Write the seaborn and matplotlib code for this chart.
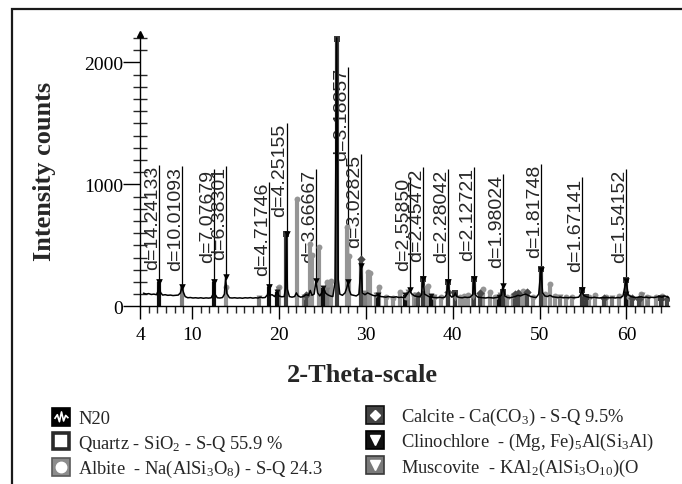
import matplotlib
matplotlib.use("Agg")
import matplotlib.pyplot as plt
import seaborn as sns
from matplotlib.lines import Line2D
from matplotlib.legend_handler import HandlerTuple
from matplotlib.patches import Rectangle
from matplotlib.path import Path
from matplotlib.ticker import FixedLocator

tth_n20 = [4.4, 4.7, 5.0, 5.3, 5.6, 5.9, 6.05, 6.2, 6.35, 6.6, 6.9, 7.2, 7.5, 7.8, 8.1, 8.4, 8.65, 8.84, 9.0, 9.2,
           9.5, 9.8, 10.1, 10.4, 10.7, 11.0, 11.3, 11.6, 11.9, 12.2, 12.38, 12.5, 12.62, 12.9, 13.2, 13.5, 13.72, 13.86, 14.0, 14.3,
           14.6, 14.9, 15.2, 15.5, 15.8, 16.1, 16.4, 16.7, 17.0, 17.3, 17.6, 17.85, 18.1, 18.4, 18.68, 18.8, 18.92, 19.2, 19.5, 19.8,
           20.0, 20.3, 20.6, 20.76, 20.86, 20.97, 21.2, 21.5, 21.8, 22.0, 22.2, 22.5, 22.8, 23.1, 23.4, 23.6, 23.8, 24.05, 24.25, 24.45,
           24.7, 25.0, 25.15, 25.35, 25.6, 25.9, 26.2, 26.45, 26.64, 26.82, 27.0, 27.3, 27.6, 27.8, 27.96, 28.1, 28.3, 28.6, 28.9, 29.2,
           29.45, 29.6, 29.9, 30.2, 30.5, 30.8, 31.1, 31.4, 31.7, 32.0, 32.3, 32.6, 32.9, 33.2, 33.5, 33.8, 34.1, 34.4, 34.7, 35.05,
           35.3, 35.6, 35.9, 36.2, 36.4, 36.58, 36.75, 37.0, 37.3, 37.6, 37.9, 38.2, 38.5, 38.8, 39.1, 39.3, 39.48, 39.62, 39.9, 40.15,
           40.3, 40.45, 40.8, 41.1, 41.4, 41.7, 42.0, 42.3, 42.46, 42.6, 42.9, 43.2, 43.5, 43.8, 44.1, 44.4, 44.7, 45.0, 45.3, 45.6,
           45.78, 46.0, 46.3, 46.6, 46.9, 47.2, 47.5, 47.8, 48.1, 48.4, 48.7, 49.0, 49.3, 49.6, 49.9, 50.15, 50.35, 50.6, 50.9, 51.2,
           51.5, 51.8, 52.1, 52.4, 52.7, 53.0, 53.3, 53.6, 53.9, 54.2, 54.5, 54.7, 54.88, 55.05, 55.35, 55.7, 56.0, 56.3, 56.6, 56.9,
           57.2, 57.5, 57.8, 58.1, 58.4, 58.7, 59.0, 59.3, 59.6, 59.96, 60.2, 60.5, 60.8, 61.1, 61.4, 61.7, 62.0, 62.3, 62.6, 62.9,
           63.2, 63.5, 63.8, 64.1, 64.4, 64.7, 64.9]
cnt_n20 = [108, 100, 104, 97, 100, 95, 120, 200, 115, 92, 95, 90, 92, 88, 90, 92, 110, 160, 115, 80,
           70, 72, 68, 70, 67, 70, 66, 69, 67, 70, 95, 200, 100, 70, 68, 72, 100, 240, 105, 70,
           68, 70, 67, 69, 66, 70, 68, 71, 67, 70, 68, 75, 70, 72, 95, 160, 90, 95, 80, 120,
           85, 78, 80, 150, 590, 140, 80, 75, 80, 110, 85, 75, 80, 95, 90, 130, 90, 100, 210, 110,
           85, 120, 150, 110, 95, 85, 80, 200, 2200, 220, 100, 90, 110, 150, 200, 130, 95, 90, 85, 100,
           330, 110, 95, 110, 100, 90, 85, 95, 80, 78, 75, 80, 76, 74, 78, 72, 75, 70, 95, 130,
           100, 85, 80, 78, 95, 225, 100, 90, 78, 75, 72, 70, 74, 70, 75, 100, 200, 95, 75, 85,
           110, 80, 72, 70, 75, 72, 75, 95, 225, 95, 75, 72, 70, 68, 72, 70, 68, 72, 75, 90,
           170, 85, 72, 70, 75, 80, 90, 85, 95, 100, 90, 80, 75, 72, 100, 300, 110, 85, 80, 90,
           78, 75, 72, 75, 70, 72, 70, 74, 70, 72, 75, 95, 130, 90, 80, 72, 70, 74, 70, 68,
           72, 70, 73, 70, 72, 68, 72, 70, 85, 210, 95, 80, 75, 72, 75, 78, 72, 75, 70, 74,
           72, 76, 80, 75, 85, 78, 70]

# reference sticks of each phase
quartz_tth = [20.86, 26.64, 36.54, 39.47, 40.29, 42.45, 45.79, 50.14, 54.87, 55.33, 59.96, 64.03]
quartz_cnt = [590, 2190, 225, 200, 110, 225, 115, 305, 130, 80, 215, 70]

albite_tth = [13.87, 19.95, 22.04, 23.55, 23.85, 24.55, 25.5, 26.0, 27.8, 28.1, 30.2, 30.5, 31.5, 32.3, 33.1, 33.9,
              34.6, 35.6, 36.7, 37.1, 37.9, 38.6, 40.8, 41.3, 41.8, 43.5, 44.3, 44.9, 46.2, 46.9, 47.6, 48.1,
              48.6, 49.3, 50.6, 51.2, 51.8, 53.0, 53.7, 55.7, 56.4, 57.7, 59.2, 60.3, 61.7, 62.4, 63.4, 64.1]
albite_cnt = [160, 160, 880, 510, 420, 490, 200, 210, 650, 415, 280, 270, 160, 80, 70, 120,
              75, 90, 150, 170, 80, 75, 80, 85, 90, 140, 120, 80, 75, 90, 110, 125,
              120, 80, 100, 180, 85, 80, 75, 75, 90, 75, 85, 75, 100, 75, 80, 85]

calcite_tth = [23.06, 29.41, 35.97, 39.42, 43.16, 47.12, 47.5, 48.5, 57.4, 60.67, 61.4, 64.7]
calcite_cnt = [95, 390, 95, 120, 110, 100, 110, 120, 70, 65, 60, 60]

clino_tth = [6.20, 12.50, 18.80, 19.75, 25.12, 31.40, 34.45, 37.5, 45.3, 59.9]
clino_cnt = [200, 200, 160, 115, 150, 95, 90, 85, 80, 100]

musco_tth = [8.84, 17.75, 19.85, 22.9, 25.5, 29.9, 31.2, 34.9, 35.8, 37.8, 40.3, 42.3, 45.4, 52.3, 55.1, 58.3, 61.8, 62.5]
musco_cnt = [160, 70, 140, 80, 130, 110, 90, 120, 90, 75, 70, 75, 90, 75, 80, 70, 95, 70]

# labelled d-spacings
peak_tth = [6.20, 8.83, 12.50, 13.86, 18.80, 20.87, 24.25, 27.96, 29.47, 35.04, 36.58, 39.48, 42.46, 45.78, 50.15, 54.88, 59.96]
peak_d = ["14.24133", "10.01093", "7.07679", "6.38301", "4.71746", "4.25155", "3.66667", "3.18857", "3.02825",
          "2.55850", "2.45472", "2.28042", "2.12721", "1.98024", "1.81748", "1.67141", "1.54152"]
peak_cnt = [200, 160, 200, 240, 160, 590, 210, 200, 330, 130, 225, 200, 225, 170, 300, 130, 210]
peak_top = [1158, 1152, 1125, 1152, 1021, 1502, 1125, 1959, 1248, 1060, 1139, 1125, 1139, 1084, 1166, 1057, 1125]

legend_labels = ["N20",
                 r"Quartz - SiO$_2$ - S-Q 55.9 %",
                 r"Albite  - Na(AlSi$_3$O$_8$) - S-Q 24.3",
                 r"Calcite - Ca(CO$_3$) - S-Q 9.5%",
                 r"Clinochlore  - (Mg, Fe)$_5$Al(Si$_3$Al)",
                 r"Muscovite  - KAl$_2$(AlSi$_3$O$_{10}$)(O"]

sns.set_style("white")
plt.rcParams["font.family"] = ["Liberation Serif", "DejaVu Serif"]
plt.rcParams["mathtext.fontset"] = "custom"
plt.rcParams["mathtext.rm"] = "Liberation Serif"
plt.rcParams["mathtext.it"] = "Liberation Serif:italic"
plt.rcParams["mathtext.bf"] = "Liberation Serif:bold"

fig = plt.figure(figsize=(6.82, 4.85), dpi=100)
ax = fig.add_axes([140 / 682, 1 - 307.3 / 485, 529 / 682, 272.3 / 485])

phases = [
    (albite_tth, albite_cnt, "#959595", "o"),
    (musco_tth, musco_cnt, "#7f7f7f", "v"),
    (calcite_tth, calcite_cnt, "#4a4a4a", "D"),
    (quartz_tth, quartz_cnt, "#3c3c3c", "s"),
    (clino_tth, clino_cnt, "#101010", "v"),
]
for tth, cnt, col, mk in phases:
    ax.vlines(tth, 0, cnt, colors=col, lw=3, zorder=2)
    sns.scatterplot(x=tth, y=cnt, ax=ax, color=col, marker=mk, s=18, linewidth=0, zorder=3)

sns.lineplot(x=tth_n20, y=cnt_n20, ax=ax, color="black", lw=1.1, sort=False, estimator=None, zorder=4)

# d-spacing markers and labels
ax.vlines(peak_tth, peak_cnt, peak_top, colors="black", lw=0.9, zorder=1)
sns.scatterplot(x=peak_tth, y=peak_cnt, ax=ax, color="black", marker="v", s=22, linewidth=0, zorder=5)
for x, top, d in zip(peak_tth, peak_top, peak_d):
    ax.annotate("d=" + d, (x, top), xytext=(1.5, 0), textcoords="offset points",
                rotation=90, ha="right", va="top", fontsize=14,
                family=["Liberation Sans", "DejaVu Sans"], zorder=1)

ax.set_xlim(4, 64.9)
ax.set_ylim(0, 2232)
sns.despine(ax=ax)
for s in ["left", "bottom"]:
    ax.spines[s].set_color("black")
    ax.spines[s].set_linewidth(1.0)
ax.xaxis.set_major_locator(FixedLocator([4, 10, 20, 30, 40, 50, 60]))
ax.xaxis.set_minor_locator(FixedLocator([v for v in range(5, 65) if v % 10 != 0]))
ax.yaxis.set_major_locator(FixedLocator([0, 1000, 2000]))
ax.yaxis.set_minor_locator(FixedLocator([v for v in range(100, 2300, 100) if v % 1000 != 0]))
ax.tick_params(axis="x", which="major", direction="out", length=9.5, width=1, pad=5, labelsize=14, colors="black")
ax.tick_params(axis="x", which="minor", direction="out", length=5, width=1)
ax.tick_params(axis="y", which="major", direction="out", length=12, width=1, pad=0, labelsize=14, colors="black")
ax.tick_params(axis="y", which="minor", direction="inout", length=10, width=1)
ax.tick_params(bottom=True, left=True, which="both")
ax.plot([0], [1], marker="^", color="black", ms=5, transform=ax.transAxes, clip_on=False)

fig.text(45 / 682, 1 - 171 / 485, "Intensity counts", rotation=90, ha="center", va="center",
         fontsize=19, fontweight="bold")
fig.text(362 / 682, 1 - 376 / 485, "2-Theta-scale", ha="center", va="center",
         fontsize=19, fontweight="bold")

fig.add_artist(Rectangle((12 / 682, -0.05), 1.0, 1.05 - 9.5 / 485, transform=fig.transFigure,
                         fill=False, lw=1.6, edgecolor="#1a1a1a"))

zig = Path([(-1, -0.2), (-0.6, 0.4), (-0.3, -0.6), (0.0, 0.8), (0.3, -0.5), (0.6, 0.3), (1, -0.1)],
           [Path.MOVETO] + [Path.LINETO] * 6)


def box(col, edge="#222222"):
    return Line2D([], [], ls="none", marker="s", ms=12.5, mfc=col, mec=edge, mew=1.2)


def glyph(mk, ms=7):
    return Line2D([], [], ls="none", marker=mk, ms=ms, mfc="white", mec="white")


handles = [
    (box("black", "black"), Line2D([], [], ls="none", marker=zig, ms=10, mfc="none", mec="white", mew=1.2)),
    (Line2D([], [], ls="none", marker="s", ms=12, mfc="white", mec="#2a2a2a", mew=2.6),),
    (box("#8c8c8c", "#5a5a5a"), glyph("o", 7.5)),
    (box("#444444", "#111111"), glyph("D", 5.5)),
    (box("#111111", "#000000"), glyph("v", 7.5)),
    (box("#7a7a7a", "#3a3a3a"), glyph("v", 7.5)),
]
common = dict(loc="upper left", frameon=False, borderpad=0, borderaxespad=0, fontsize=13.3,
              handlelength=1.0, handler_map={tuple: HandlerTuple(ndivide=1, pad=0)})
fig.legend(handles[:3], legend_labels[:3], bbox_to_anchor=(51.75 / 682, 1 - 411 / 485),
           handletextpad=0.42, labelspacing=0.3, **common)
fig.legend(handles[3:], legend_labels[3:], bbox_to_anchor=(366.25 / 682, 1 - 407 / 485),
           handletextpad=0.86, labelspacing=0.22, **common)

fig.savefig("out.png", dpi=100)
